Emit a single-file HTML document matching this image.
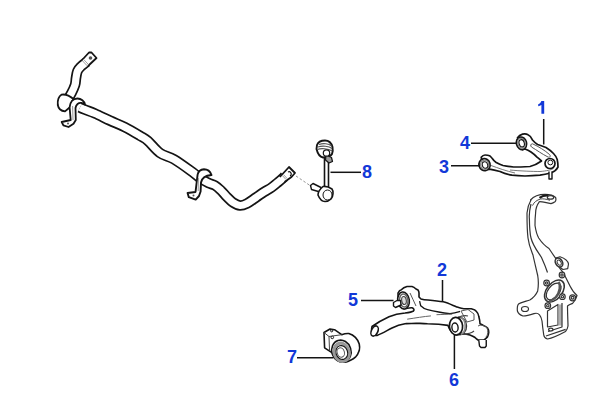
<!DOCTYPE html>
<html><head><meta charset="utf-8">
<style>
html,body{margin:0;padding:0;background:#fff;}
body{width:600px;height:400px;overflow:hidden;position:relative;}
svg{position:absolute;left:0;top:0;}
.lbl{font-family:"Liberation Sans",sans-serif;font-weight:bold;font-size:18px;fill:#1238d8;}
</style></head>
<body>
<svg width="600" height="400" viewBox="0 0 600 400">
<path d="M86.5,62.0 C85.6,62.8 82.5,65.0 81.0,66.5 C79.5,68.0 78.3,69.1 77.5,71.0 C76.7,72.9 76.4,75.7 76.0,78.0 C75.6,80.3 75.8,82.5 75.0,85.0 C74.2,87.5 72.7,90.7 71.5,93.0 C70.3,95.3 68.6,98.0 68.0,99.0" stroke="#141414" stroke-width="10.6" fill="none" stroke-linecap="butt"/>
<path d="M86.5,62.0 C85.6,62.8 82.5,65.0 81.0,66.5 C79.5,68.0 78.3,69.1 77.5,71.0 C76.7,72.9 76.4,75.7 76.0,78.0 C75.6,80.3 75.8,82.5 75.0,85.0 C74.2,87.5 72.7,90.7 71.5,93.0 C70.3,95.3 68.6,98.0 68.0,99.0" stroke="#fff" stroke-width="7.2" fill="none" stroke-linecap="butt"/>
<path d="M80.0,107.5 C80.8,107.9 82.5,108.7 85.0,109.7 C87.5,110.7 90.8,111.7 95.0,113.5 C99.2,115.3 105.0,118.3 110.0,120.6 C115.0,122.9 120.0,124.7 125.0,127.2 C130.0,129.7 136.2,133.5 140.0,135.8 C143.8,138.1 144.7,138.1 148.0,141.0 C151.3,143.9 155.7,149.9 160.0,153.0 C164.3,156.1 168.6,156.1 174.0,159.3 C179.4,162.5 188.1,168.9 192.4,172.0 C196.7,175.1 197.4,176.2 200.0,178.0 C202.6,179.8 205.5,181.6 208.0,182.8 C210.5,184.1 212.8,184.2 215.0,185.5 C217.2,186.8 219.0,188.6 221.0,190.5 C223.0,192.4 225.0,195.0 227.0,197.0 C229.0,199.0 230.8,201.1 233.0,202.5 C235.2,203.9 237.7,205.3 240.0,205.5 C242.3,205.7 244.3,204.8 247.0,203.5 C249.7,202.2 253.2,199.4 256.0,197.5 C258.8,195.6 261.4,193.7 264.0,192.0 C266.6,190.3 269.2,189.1 271.5,187.5 C273.8,185.9 275.8,184.1 278.0,182.3 C280.2,180.5 283.4,177.5 284.5,176.5" stroke="#141414" stroke-width="10.6" fill="none" stroke-linecap="butt"/>
<path d="M80.0,107.5 C80.8,107.9 82.5,108.7 85.0,109.7 C87.5,110.7 90.8,111.7 95.0,113.5 C99.2,115.3 105.0,118.3 110.0,120.6 C115.0,122.9 120.0,124.7 125.0,127.2 C130.0,129.7 136.2,133.5 140.0,135.8 C143.8,138.1 144.7,138.1 148.0,141.0 C151.3,143.9 155.7,149.9 160.0,153.0 C164.3,156.1 168.6,156.1 174.0,159.3 C179.4,162.5 188.1,168.9 192.4,172.0 C196.7,175.1 197.4,176.2 200.0,178.0 C202.6,179.8 205.5,181.6 208.0,182.8 C210.5,184.1 212.8,184.2 215.0,185.5 C217.2,186.8 219.0,188.6 221.0,190.5 C223.0,192.4 225.0,195.0 227.0,197.0 C229.0,199.0 230.8,201.1 233.0,202.5 C235.2,203.9 237.7,205.3 240.0,205.5 C242.3,205.7 244.3,204.8 247.0,203.5 C249.7,202.2 253.2,199.4 256.0,197.5 C258.8,195.6 261.4,193.7 264.0,192.0 C266.6,190.3 269.2,189.1 271.5,187.5 C273.8,185.9 275.8,184.1 278.0,182.3 C280.2,180.5 283.4,177.5 284.5,176.5" stroke="#fff" stroke-width="7.2" fill="none" stroke-linecap="butt"/>
<g fill="#fff" stroke="#141414" stroke-width="1.8" stroke-linejoin="round">
<path d="M83,59 L89,52.5 L91.5,52.5 L96.5,58 L88,66"/>
<path d="M82.5,60.8 L87.2,65.8 M83.8,59.6 L88.5,64.6" stroke-width="0.8" stroke="#888"/>
<circle cx="90.5" cy="58" r="1.8" fill="#555" stroke="none"/>
<path d="M61.7,94.6 C58,97 57.5,102 57.8,105 C58.5,109 61,111 65,111.4 L69.6,107.5 L73.5,99 C70,96 66,94 61.7,94.6 Z"/>
<path d="M69.6,107.5 L70.7,120 L61.7,122 L63.4,125.4 L68.5,127 L73.5,123.8 L75.8,120 L75.5,108 C76,104.5 78.5,102.5 81.5,103 C83,103.3 84.3,104 85,104.5 C84.5,101 81,98.5 77.5,98.5 C73,98.5 70,102 69.6,107.5 Z"/>
<path d="M72.6,106 L73,120" stroke-width="0.9" stroke="#888"/>
<circle cx="68" cy="123.5" r="1" fill="#555" stroke="none"/>
<path d="M279.8,177 L289,167 L295,173 L291.5,177 L284.5,182"/>
<path d="M282.3,175.5 L286,179.5 M283.5,174.6 L287.2,178.6" stroke-width="0.8" stroke="#888"/>
<path d="M288,172 A2,2 0 1 1 290,176" stroke-width="1.2" fill="none"/>
<path d="M196,188 L195.5,192 L187.6,193 L188.8,197.2 L195.7,199.6 L199,196 L200.6,191.5 L201,182.5 C201.8,178 206,175.5 211.5,175 C210,171 206.5,169.3 204,169.3 C200.5,169.5 198.3,171.5 197.6,174.6 Z" stroke-width="1.9"/>
<path d="M198.4,178 L198.2,191" stroke="#999" stroke-width="1"/>
<circle cx="193.5" cy="195.5" r="1" fill="#555" stroke="none"/>
</g>
<path d="M296,176 L310,185.5" stroke="#888" stroke-width="0.9" stroke-dasharray="2.5,2" fill="none"/>
<g fill="#fff" stroke="#141414" stroke-width="1.6" stroke-linejoin="round">
<path d="M324.5,158 L324.5,190 M328.5,158 L328.5,190" fill="none"/>
<path d="M317,145 C318,142 321,140.5 325,140.5 C328,140.5 331,141.5 332.5,147 C333,150 332.5,153 332,154 C331,156 329,157 323,157.5 C320,157 318,155 316.5,149 Z" stroke-width="1.9"/>
<path d="M319,144.5 C323,143 329,143.5 331.5,146 M318,147 C322,145.5 329,146 332,148.5 M317.5,149.5 C321,148 328,148.5 332.3,151" stroke="#555" stroke-width="1.1" fill="none"/>
<path d="M326,155 L331.5,157.5 L332.5,161.5 L329,163 L325.5,160 Z" fill="#999" stroke-width="1.2"/>
<circle cx="326.5" cy="153" r="3.2" stroke-width="1.2"/>
<path d="M310.5,185.5 L313,183.5 L321,187.5 L320,192 L311.5,189.5 Z" stroke-width="1.4"/>
<path d="M323,186.5 C326,186 329,187 332,189 C333.5,191 333.5,196 331,199 C329,201 327,201.5 325,201.5 C322,201.5 320,200 318,195 C318,192 319,190 323,186.5 Z"/>
<ellipse cx="327.5" cy="195" rx="4.5" ry="5" stroke-width="1"/>
</g>
<path d="M330.5,172.3 L361,172.3" stroke="#141414" stroke-width="1.5"/>
<text class="lbl" x="362" y="178">8</text>
<g fill="#fff" stroke="#141414" stroke-width="1.7" stroke-linejoin="round">
<path d="M517.5,137.7 C520,134 525,133 528,134.7 C531,136 532,139 532.5,140 C535,143 537,144 537.7,144.5 C542,146 546,147.5 546,147.5 C550,150 553.5,153.5 553.5,153.5 C556,156 557.2,159.5 557.2,159.5 C558,163 558,167 558,167 C557,169 555,170.7 555,170.7 C553,172 550.5,173 550.5,173 C545,174.5 540,175.2 540,175.2 C532,176 525,176 525,176 C518,176 512,175.2 512,175.2 C505,174 500,171.5 500,171.5 C494,170 489.5,169.2 489.5,169.2 L483.5,170 L481.2,157.2 C483,155 485,155 485,155 C488,155 489.5,155.7 489.5,155.7 C491,157 492.5,158.7 492.5,158.7 C494,161 496.2,162.5 496.2,162.5 C500,164.5 503,165.5 503,165.5 C508,166.5 513.5,167 513.5,167 C520,167 530,166.5 530,166.5 C536,165 541.5,161 541.5,161 C538,158 537,157.2 537,157.2 C534,154 531,152 531,152 C528,150 525,149 525,149 L522.5,149.7 Z"/>
<ellipse cx="521.5" cy="143.3" rx="5" ry="6.3" stroke-width="1.8" transform="rotate(-15 521.5 143.3)"/>
<ellipse cx="521.6" cy="143.3" rx="3.8" ry="5" stroke="#888" stroke-width="1.3" transform="rotate(-15 521.6 143.3)"/>
<ellipse cx="521.7" cy="143.3" rx="2.6" ry="3.7" stroke-width="1.1" transform="rotate(-15 521.7 143.3)"/>
<ellipse cx="484.5" cy="164.7" rx="5.5" ry="6" stroke-width="1.8" transform="rotate(-15 484.5 164.7)"/>
<ellipse cx="484.7" cy="164.8" rx="4.1" ry="4.7" stroke="#888" stroke-width="1.3" transform="rotate(-15 484.7 164.8)"/>
<ellipse cx="485" cy="165" rx="2.7" ry="3.3" stroke-width="1.1" transform="rotate(-15 485 165)"/>
<path d="M532.5,143.8 C538.5,146.5 545,150.5 549.5,154.5 C551,156 550,157.8 548,157 C542,154 536.5,150 531.5,147 C530,146 530.8,143.5 532.5,143.8 Z" stroke-width="1" stroke="#555" fill="none"/>
<path d="M491,165.5 C498,168 506,171 515,173" stroke-width="1" stroke="#777" fill="none"/>
<path d="M510,170 C520,171 533,171.5 540,171.5 C546,171 551,170 553.5,168.5" stroke-width="1" stroke="#777" fill="none"/>
<circle cx="550" cy="163.5" r="5"/>
<circle cx="550.3" cy="162.5" r="2.4" stroke-width="1"/>
<path d="M549,171.5 L549,179 L552,179 L552,171.5" stroke-width="1.4"/>
</g>
<path d="M543.7,119 L543.7,144.5 M471,143.3 L516,143.3 M451,165.8 L479,165.8" stroke="#141414" stroke-width="1.5" fill="none"/>
<path d="M541.4,101 L544.2,101 L544.2,113.8 L541.4,113.8 L541.4,104.9 C540.4,105.6 539.3,106 538.2,106.3 L538.2,104.3 C539.8,103.6 540.9,102.5 541.4,101 Z" fill="#1238d8"/>
<text class="lbl" x="460" y="149">4</text>
<text class="lbl" x="439" y="173">3</text>
<g fill="#fff" stroke="#333333" stroke-width="1.2" stroke-linejoin="round">
<path d="M530.5,200 C533.5,196.5 539.5,194.3 545,194.3 C549,194.3 553,194.6 555.6,197.5 C556.2,199.5 555.8,201 555,201.7 C553,203 551,203.6 551,203.6 C548,203 545,202.4 545,202.4 C542,202 540,201.5 539.4,201.7 C537,205 535.6,210 535.6,213 C535,218 535,222 535,225.5 C536,232 537,235 538.7,238 C542,243 545,246 549,248.5 C552,253 555,257.5 557.2,260.5 L558.7,266.5 C560,269 562,271 562.5,271.7 C564,274 565.5,277 565.5,277 C568,282 570,286 570,286 C572,290 574.5,293.5 577,295.5 C576,299 574,302 572.6,303.4 C570,304.5 568.5,305 567.5,306 C567.5,315 568,322 568,326 C567.5,329 566.5,330.5 565.5,331.5 C560,334.5 553,338 547.5,339 C545,338.5 544,336.5 543.75,335 C543,330 542.5,326 542,321 C541,316 539,312 534,313.6 C530,315 527,316 523,316 C520,315 518,313 517.4,311 C517,307 518,304 519.6,303.4 C523,302 527,301 529.8,300 C533,298 536,295 537.7,291 C538.5,286 538.5,280 537.7,275.5 C536,268 534,260 533,255 C531,250 529,246 528,238 C527,230 527,220 527,213 C527.5,208 528,205 531,200 Z"/>
<path d="M531,204 C529.5,210 529,215 529.4,219 C529.5,228 530,234 531,238 C533,246 538,252 541.5,257.5 C544,263 546,268 547.5,272.5" fill="none"/>
<path d="M539.5,197.8 C542,196 545,195.2 548.5,195.5" fill="none" stroke="#1a1a1a" stroke-width="2.2"/>
<path d="M532.5,205.6 C534,202 537,200 540.6,199 C543,198.6 546,199 550,200.3" fill="none" stroke-width="0.9"/>
<ellipse cx="550.5" cy="197.4" rx="3.2" ry="1.7" fill="none"/>
<path d="M555.7,258 L560,256.7 C564,258 568,261 568.5,264 L567.7,268.7 L563,269.5 L558.7,266.5 Z"/>
<ellipse cx="559" cy="262.5" rx="3.4" ry="4.8" stroke-width="1.6" transform="rotate(-30 559 262.5)"/>
<ellipse cx="559.2" cy="262.6" rx="1.8" ry="2.8" stroke-width="0.9" transform="rotate(-30 559.2 262.6)"/>
<ellipse cx="554.4" cy="291" rx="12.6" ry="7.8" stroke-width="1.5" transform="rotate(-52 554.4 291)"/>
<ellipse cx="553.6" cy="291.5" rx="9.6" ry="5.6" transform="rotate(-52 553.6 291.5)" stroke="#333" stroke-width="1.3"/>
<path d="M558.5,282 C561,285 560,292 556,297 C554,299 551,300.5 549,300.5" stroke="#555" stroke-width="2.4" fill="none"/>
<circle cx="546.6" cy="283" r="2.8"/><circle cx="546.6" cy="283" r="1.2"/>
<circle cx="562" cy="275" r="2.8"/><circle cx="562" cy="275" r="1.2"/>
<circle cx="562.4" cy="296.7" r="2.8"/><circle cx="562.4" cy="296.7" r="1.2"/>
<circle cx="547.8" cy="305.7" r="2.8"/><circle cx="547.8" cy="305.7" r="1.2"/>
<circle cx="572.6" cy="297.8" r="3"/><circle cx="572.6" cy="297.8" r="1.4"/>
<ellipse cx="525" cy="309" rx="3.5" ry="2.5"/>
<path d="M547.5,311 L558,304.5 L558,325 L547.5,327 Z"/>
<rect x="558.5" y="304.5" width="3.2" height="21" fill="#b0b0b0" stroke="none"/>
<path d="M562,303 L562,327 L548,331.5 M546,336 L565.6,329.4" fill="none"/>
<ellipse cx="550.8" cy="329.6" rx="2.2" ry="1.4"/>
</g>
<g fill="#fff" stroke="#141414" stroke-width="1.6" stroke-linejoin="round">
<path d="M372,326.5 C378,322 384,319 389,316.7 C393,315 398,313.5 405,313 C409,312.5 412,312 413.5,311 C414.5,310 414,308.5 412,307.8 C409.5,307.5 407,308.5 404,308.8 C400,305 397.5,298 398,293 C399,291 400,290 401,290 C403,288 405,287 407,286.5 L412,286.5 C414,287 415,288 416,289 L418,290 C419,291.5 419,292 419,293 L419,297 L421,299 C424,300 426,300 428,300 C433,300.5 438,301 443.2,301.8 C448,303 452,305 456.7,306.9 C460,308 462,308.7 463.75,308.75 L471.25,308.75 C474,309.5 475.5,310 476.25,311.25 C478,313 478.5,314.5 478.75,316.25 C479.5,319 480,322 480,323.75 C481.5,324.5 482.5,325 483.75,325.6 C485.5,326.5 487,327 487.5,328 C488.5,329.5 488.75,331 488.75,332.5 C488.5,334.5 488,336 487.5,336.9 C486,338.5 485,339.5 483.75,340 L478,340 C476.5,339 475.5,338 475,337.5 C473,336 471,335.5 470,335 C467,334.2 465,334 463.75,333.75 L456,335 C452,333 449.5,330 448,325.4 L438.7,324.3 C433,323.8 430,323.7 427.5,323.7 C422,323.5 419,323.3 416.2,323.2 C410,323.4 407,323.6 405,323.7 C400,324.5 396,326 392,328 C387,330.5 382,333.5 377,335.5 C373,335.5 370.5,330 372,326.5 Z"/>
<ellipse cx="374.6" cy="331" rx="3.2" ry="5.4" transform="rotate(25 374.6 331)"/>
<ellipse cx="403.5" cy="300.5" rx="5.8" ry="8.5" transform="rotate(-8 403.5 300.5)"/>
<ellipse cx="403.8" cy="300.5" rx="4.2" ry="6.6" stroke-width="1.6" stroke="#666" transform="rotate(-8 403.8 300.5)"/>
<ellipse cx="404" cy="300.5" rx="2.3" ry="4" stroke-width="1.1" stroke="#444" fill="#ddd" transform="rotate(-8 404 300.5)"/>
<path d="M393.5,302.5 L397,300.5 L400.5,300.5 L401,305 L395.5,307.5 L393.5,306 Z" stroke-width="1.4"/>
<path d="M410,293 C412,297 414,302 416,306" fill="none" stroke-width="1" stroke="#555"/>
<path d="M419.6,301.2 C420,303 420.5,305 420.7,305.7 C423,308 425,309 427.5,309.7 C432,311 435,311.5 438.7,312 C443,312.8 447,313.3 450,313.6 C455,313 458,312 460,311.4" fill="none" stroke-width="1.3"/>
<path d="M407.2,319.2 C415,318 424,316.5 430.9,315.9 M436.5,314.7 C441,314.5 447,314.3 452.2,314.2" fill="none" stroke-width="1" stroke="#666"/>
<path d="M461,311 L468,309.5 L474,314 L474,320 L467,322 Z" stroke-width="1" stroke="#555" fill="none"/>
<path d="M457,318 C461,316 465,315 468,316 M462,334.5 C468,334 472,333 474,331" fill="none" stroke-width="1.1" stroke="#444"/>
<path d="M458,317.3 C463,316.5 466.5,321 466.5,326 C466.5,331 463.5,334.5 459.5,334.8" fill="#fff" stroke="#333" stroke-width="1.4"/>
<path d="M460.5,317.6 C464.5,318.5 465.2,322 465.2,326 C465.2,330 464,333 461,334.2" fill="none" stroke="#888" stroke-width="1.6"/>
<ellipse cx="456" cy="326.2" rx="6.6" ry="8.8" stroke-width="1.7" transform="rotate(-5 456 326.2)"/>
<ellipse cx="455" cy="327.5" rx="3.1" ry="4.5" stroke-width="1.4" transform="rotate(-5 455 327.5)"/>
<path d="M478,326 C481,324.5 485,325.5 487,328 C488.5,331 488,335 486,337" fill="none" stroke-width="1" stroke="#555"/>
<path d="M478.75,340 L479.5,346 L481,347.5 L485,347.5 L486.25,346 L486.25,340" stroke-width="1.4"/>
</g>
<path d="M361,300.5 L393.5,300.5 M442.5,280 L442.5,301.5 M454.4,335 L454.4,369 M297,357.7 L333,357.7" stroke="#141414" stroke-width="1.5" fill="none"/>
<text class="lbl" x="348" y="306">5</text>
<text class="lbl" x="437" y="276">2</text>
<text class="lbl" x="449" y="386">6</text>
<text class="lbl" x="287" y="363">7</text>
<g fill="#fff" stroke="#141414" stroke-width="1.6" stroke-linejoin="round">
<path d="M324,332.5 L330,329 L334.5,329.7 L341.7,334.7 C344,333.8 346.5,333.3 348.8,333.5 C351.5,334.3 353.8,335.8 355.4,337.4 C357.6,339.8 358.8,342 359.25,344 C359.8,346.5 359.8,348.5 359.25,350.6 C358.5,353 357.3,355.3 355.4,357.2 C354,358.5 352.5,359.4 351,360 C349,361 347.3,361.8 345.5,362.2 C343.5,362.3 341.8,362.1 340,361.6 C337.8,360.8 335.9,359.8 334.5,358.3 L332.3,352.8 L324.6,347.8 Z"/>
<path d="M324,332.5 L329,336.5 L341.7,334.7 M329,336.5 L329.5,350" fill="none" stroke-width="1" stroke="#444"/>
<circle cx="331.7" cy="330.8" r="1.1" stroke-width="1"/>
<circle cx="332.3" cy="337.4" r="1.3" stroke-width="1"/>
<ellipse cx="341.4" cy="351.1" rx="9.6" ry="11.1" transform="rotate(-18 341.4 351.1)"/>
<ellipse cx="341.6" cy="352.3" rx="7.5" ry="9.2" stroke="#999" stroke-width="3.2" transform="rotate(-18 341.6 352.3)"/>
<ellipse cx="341.8" cy="352.5" rx="5.8" ry="7" stroke-width="1.1" transform="rotate(-18 341.8 352.5)"/>
<ellipse cx="340.8" cy="352.5" rx="3.6" ry="4.8" stroke-width="1" stroke="#555" transform="rotate(-18 340.8 352.5)"/>
</g>
</svg>
</body></html>
